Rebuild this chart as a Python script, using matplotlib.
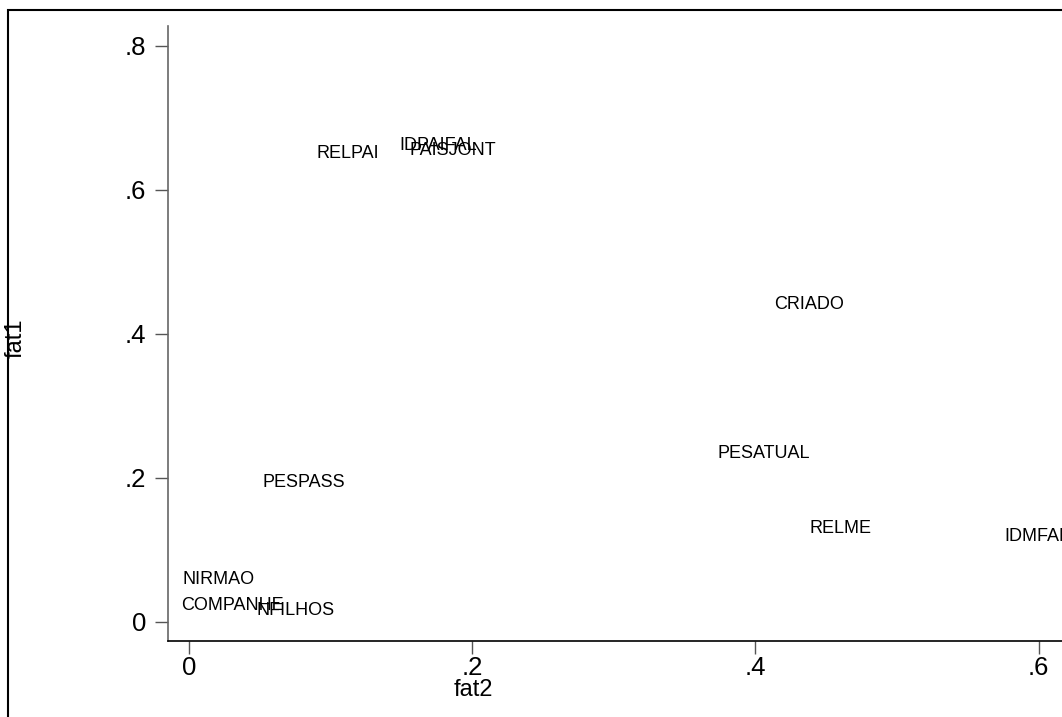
import matplotlib.pyplot as plt
plt.switch_backend('agg')
from matplotlib.patches import Rectangle

plt.rcParams['font.family'] = ['Liberation Sans', 'DejaVu Sans']

# factor loadings: fat2 on x, fat1 on y
names = ["RELPAI", "IDPAIFAL", "PAISJONT", "CRIADO", "PESATUAL", "PESPASS",
         "RELME", "IDMFAL", "NIRMAO", "COMPANHE", "NFILHOS"]
fat2 = [0.112, 0.176, 0.186, 0.438, 0.406, 0.081,
        0.460, 0.599, 0.021, 0.031, 0.075]
fat1 = [0.650, 0.661, 0.654, 0.440, 0.233, 0.193,
        0.130, 0.118, 0.059, 0.022, 0.016]

xticks = [0, 0.2, 0.4, 0.6]
yticks = [0, 0.2, 0.4, 0.6, 0.8]


def fmt(v):
    return "0" if v == 0 else ("%.1f" % v).lstrip("0")


W, H = 1062, 717
fig = plt.figure(figsize=(W / 100, H / 100), dpi=100)
ax = fig.add_axes([168 / W, (H - 641) / H, (1100 - 168) / W, (641 - 26) / H])

for n, x, y in zip(names, fat2, fat1):
    ax.text(x, y, n, ha='center', va='center', fontsize=13, clip_on=False)

ax.set_xlim(-0.0148, 0.6434)
ax.set_ylim(-0.0268, 0.8274)
ax.set_xticks(xticks)
ax.set_xticklabels([fmt(v) for v in xticks], fontsize=18.5)
ax.set_yticks(yticks)
ax.set_yticklabels([fmt(v) for v in yticks], fontsize=18.5)
ax.tick_params(axis='x', direction='out', length=9, width=1, color='#555555', pad=2)
ax.tick_params(axis='y', direction='out', length=9.5, width=1, color='#555555', pad=6)

for s in ['top', 'right']:
    ax.spines[s].set_visible(False)
ax.spines['left'].set_color('#666666')
ax.spines['left'].set_linewidth(1.2)
ax.spines['bottom'].set_color('black')
ax.spines['bottom'].set_linewidth(1.2)

fig.text(473 / W, (H - 690) / H, "fat2", ha='center', va='center', fontsize=17)
fig.text(16 / W, (H - 338) / H, "fat1", ha='center', va='center', fontsize=17, rotation=90)

# outer frame
fig.patches.append(Rectangle((8 / W, -0.1), 1.2, (H - 10) / H + 0.1,
                             transform=fig.transFigure, fill=False,
                             edgecolor='black', linewidth=1.5))

fig.savefig("out.png", dpi=100)
